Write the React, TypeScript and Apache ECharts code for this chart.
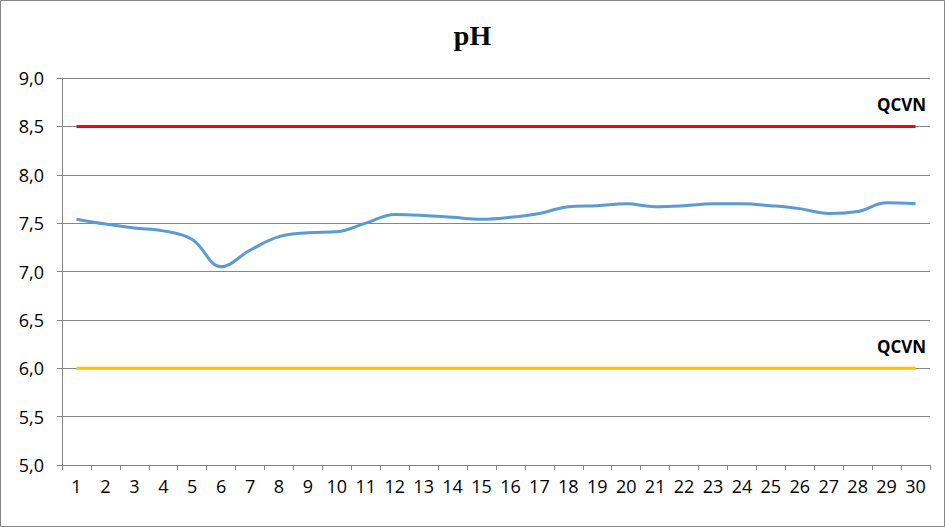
import React, { useEffect, useRef } from "react";
import * as echarts from "echarts";

const categories: string[] = Array.from({ length: 30 }, (_, i) => String(i + 1));
const phValues: number[] = [
  7.54, 7.49, 7.45, 7.42, 7.33, 7.05, 7.22, 7.36, 7.40, 7.41,
  7.50, 7.59, 7.58, 7.56, 7.54, 7.56, 7.60, 7.67, 7.68, 7.70,
  7.67, 7.68, 7.70, 7.70, 7.68, 7.65, 7.60, 7.62, 7.71, 7.70,
];
const upperLimit: number[] = categories.map(() => 8.5);
const lowerLimit: number[] = categories.map(() => 6.0);
const limitLabel = "QCVN";
const yTicks = { min: 5, max: 9, interval: 0.5 };

const endLabel = {
  show: true,
  formatter: limitLabel,
  fontFamily: "Open Sans",
  fontWeight: "bold",
  fontSize: 17,
  color: "#000",
  align: "center",
  verticalAlign: "bottom",
  distance: 0,
  offset: [-14, -13],
};

export default function App() {
  const ref = useRef<HTMLDivElement>(null);
  useEffect(() => {
    if (!ref.current) return;
    const chart = echarts.init(ref.current, undefined, { renderer: "svg" });
    chart.setOption({
      animation: false,
      backgroundColor: "#fff",
      title: {
        text: "pH",
        left: "center",
        top: 16,
        textStyle: {
          fontFamily: "Liberation Serif",
          fontWeight: "bold",
          fontSize: 28,
          color: "#000",
        },
      },
      graphic: [
        {
          type: "rect",
          shape: { x: 0.5, y: 0.5, width: 944, height: 526 },
          style: { fill: "none", stroke: "#868686", lineWidth: 1 },
          silent: true,
        },
      ],
      grid: { left: 62, right: 15, top: 78, bottom: 62, containLabel: false },
      xAxis: {
        type: "category",
        data: categories,
        boundaryGap: true,
        axisLine: { lineStyle: { color: "#868686", width: 1 } },
        axisTick: { show: true, alignWithLabel: false, length: 5, lineStyle: { color: "#868686" } },
        axisLabel: {
          color: "#000",
          fontFamily: "Open Sans",
          fontSize: 18,
          margin: 12,
          interval: 0,
        },
        splitLine: { show: false },
      },
      yAxis: {
        type: "value",
        min: yTicks.min,
        max: yTicks.max,
        interval: yTicks.interval,
        axisLine: { show: true, lineStyle: { color: "#868686", width: 1 } },
        axisTick: { show: true, length: 5, lineStyle: { color: "#868686" } },
        axisLabel: {
          color: "#000",
          fontFamily: "Open Sans",
          fontSize: 18,
          margin: 18,
          formatter: (v: number) => v.toFixed(1).replace(".", ","),
        },
        splitLine: { show: true, lineStyle: { color: "#868686", width: 1 } },
      },
      series: [
        {
          name: "upper",
          type: "line",
          data: upperLimit,
          symbol: "none",
          lineStyle: { color: "#FF0000", width: 3 },
          endLabel,
          z: 3,
        },
        {
          name: "lower",
          type: "line",
          data: lowerLimit,
          symbol: "none",
          lineStyle: { color: "#FFC000", width: 3 },
          endLabel,
          z: 3,
        },
        {
          name: "pH",
          type: "line",
          data: phValues,
          smooth: 0.4,
          symbol: "none",
          lineStyle: { color: "#5B9BD5", width: 3 },
          z: 4,
        },
      ],
    });
    return () => chart.dispose();
  }, []);
  return (
    <div
      ref={ref}
      style={{ position: "absolute", left: 0, top: 0, width: 945, height: 527 }}
    />
  );
}
